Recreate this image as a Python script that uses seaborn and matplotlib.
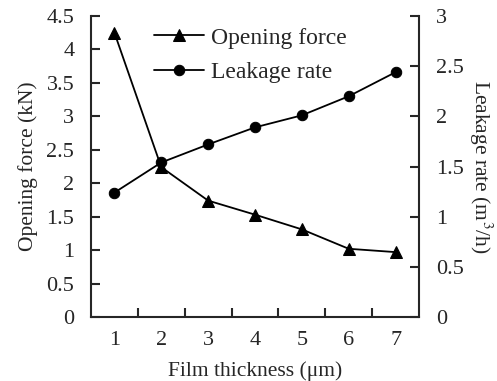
import matplotlib
matplotlib.use("Agg")
import matplotlib.pyplot as plt
import seaborn as sns
import pandas as pd
from matplotlib.ticker import FixedLocator

thickness = [1, 2, 3, 4, 5, 6, 7]
opening_force = [4.25, 2.24, 1.74, 1.53, 1.31, 1.02, 0.97]
leakage_rate = [1.24, 1.54, 1.72, 1.89, 2.01, 2.20, 2.44]

sns.set_style("ticks")
plt.rcParams['font.family'] = ['Liberation Serif', 'DejaVu Serif']
plt.rcParams['mathtext.fontset'] = 'stix'

df = pd.DataFrame({"x": thickness, "force": opening_force, "leak": leakage_rate})

fig = plt.figure(figsize=(4.97, 3.81), dpi=100)
ax = fig.add_axes([91/497, 1-317/381, (419-91)/497, (317-16)/381])
ax2 = ax.twinx()

sns.lineplot(data=df, x="x", y="force", ax=ax, color="black", marker="^",
             markersize=8, markeredgecolor="black", linewidth=1.3, label="Opening force", legend=False)
sns.lineplot(data=df, x="x", y="leak", ax=ax2, color="black", marker="o",
             markersize=7.5, markeredgecolor="black", linewidth=1.3, label="Leakage rate", legend=False)

ax.set_xlim(0.5, 7.5)
ax.set_ylim(0, 4.5)
ax2.set_ylim(0, 3)
ax.set_yticks([0, 0.5, 1, 1.5, 2, 2.5, 3, 3.5, 4, 4.5])
ax.set_yticklabels(["0", "0.5", "1", "1.5", "2", "2.5", "3", "3.5", "4", "4.5"])
ax2.set_yticks([0, 0.5, 1, 1.5, 2, 2.5, 3])
ax2.set_yticklabels(["0", "0.5", "1", "1.5", "2", "2.5", "3"])
ax.set_xticks(thickness)
ax.set_xticklabels([str(t) for t in thickness])
ax.xaxis.set_minor_locator(FixedLocator([1.5, 2.5, 3.5, 4.5, 5.5, 6.5]))
ax.tick_params(axis='x', which='major', length=0, labelsize=16, pad=10)
ax.tick_params(axis='x', which='minor', direction='in', length=6.5, width=1.5)
ax.tick_params(axis='y', direction='in', length=6.5, width=1.5, labelsize=16, pad=12)
ax2.tick_params(axis='y', direction='in', length=6.5, width=1.5, labelsize=16, pad=12)

for a in (ax, ax2):
    a.spines['top'].set_visible(False)
    for s in ('left', 'right', 'bottom'):
        a.spines[s].set_linewidth(1.5)
ax.spines['right'].set_visible(False)
ax2.spines['left'].set_visible(False)
ax2.spines['bottom'].set_visible(False)

ax.set_xlabel("Film thickness (μm)", fontsize=15.5, labelpad=8)
ax.set_ylabel("Opening force (kN)", fontsize=15.5, labelpad=6)
ax2.set_ylabel("Leakage rate (m$^3$/h)", fontsize=15.5, rotation=270, labelpad=22)

h1, l1 = ax.get_legend_handles_labels()
h2, l2 = ax2.get_legend_handles_labels()
ax.legend(h1 + h2, l1 + l2, loc='upper left', bbox_to_anchor=(0.15, 1.01), frameon=False,
          fontsize=17, handlelength=2.1, handletextpad=0.3, borderaxespad=0.2, labelspacing=0.55)

fig.savefig("out.png", dpi=100)
